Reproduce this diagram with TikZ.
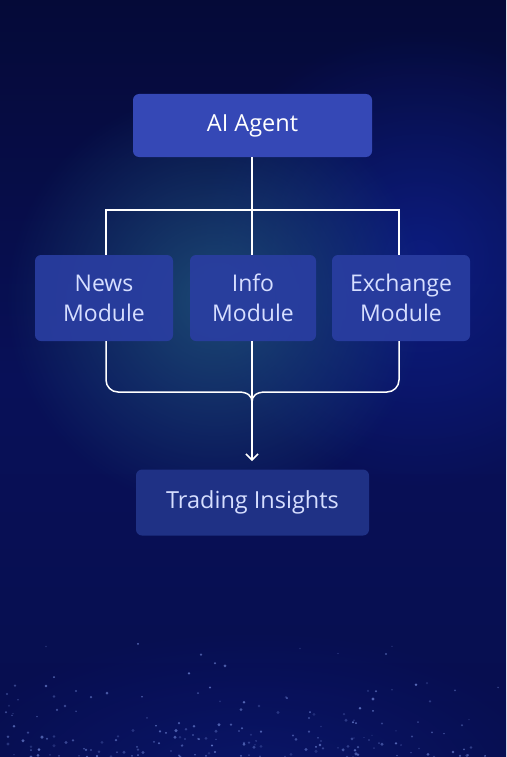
\documentclass[tikz,border=0pt]{standalone}
\usepackage{fontspec}
\setmainfont{Open Sans}
\usetikzlibrary{fadings,arrows.meta}
\definecolor{bgtop}{HTML}{050A38}
\definecolor{bgmid}{HTML}{081058}
\definecolor{bgbot}{HTML}{070E4E}
\definecolor{glow}{HTML}{1F527A}
\definecolor{glowb}{HTML}{1128A8}
\definecolor{agentfill}{HTML}{3548B6}
\definecolor{modfill}{HTML}{2A3EA2}
\definecolor{tradefill}{HTML}{1F3185}
\definecolor{txtlight}{HTML}{D6DEFF}
\definecolor{starc}{HTML}{7F96E8}
\tikzfading[name=glowfade, inner color=transparent!0, outer color=transparent!100]
\begin{document}
\begin{tikzpicture}[x=1pt,y=-1pt,
  box/.style={rounded corners=6pt, minimum height=63pt, inner sep=0pt, align=center, font=\fontsize{23}{30}\selectfont},
  agentbox/.style={box, fill=agentfill, text=white, minimum width=239pt, font=\fontsize{23.5}{30}\selectfont},
  modbox/.style={box, fill=modfill, fill opacity=0.9, text opacity=1, text=txtlight, minimum height=86pt},
  tradebox/.style={box, fill=tradefill, text=txtlight, minimum width=233pt, minimum height=66pt, font=\fontsize{23.5}{30}\selectfont},
  wire/.style={draw=white, line width=1.5pt}
]
\useasboundingbox (0,0) rectangle (506,757);
% background
\shade[top color=bgtop, bottom color=bgbot, middle color=bgmid] (0,0) rectangle (506,757);
\fill[glowb, path fading=glowfade, fill opacity=0.55] (420,260) circle (230);
\fill[glow, path fading=glowfade, fill opacity=0.85] (215,300) circle (210);
\fill[glowb, path fading=glowfade, fill opacity=0.3] (253,780) ellipse (320 and 150);
% stars
\pgfmathsetseed{11}
\foreach \i in {1,...,190}{
  \pgfmathsetmacro{\sx}{random(5,500)}
  \pgfmathsetmacro{\sy}{757-125*rnd*rnd}
  \pgfmathsetmacro{\so}{0.2+0.5*rnd}
  \pgfmathsetmacro{\sr}{0.7+1.0*rnd}
  \fill[starc, opacity=\so] (\sx,\sy) circle (\sr);
}
% nodes
\node[agentbox] (agent) at (252.5,125.5) {AI Agent};
\node[modbox, minimum width=138pt] (news) at (104,298) {News\\Module};
\node[modbox, minimum width=126pt] (info) at (253,298) {Info\\Module};
\node[modbox, minimum width=138pt] (exch) at (401,298) {Exchange\\Module};
\node[tradebox] (trade) at (252.5,502.5) {Trading Insights};
% splitting connector
\coordinate (split) at (252,210);
\draw[wire] (agent.south -| split) -- (split);
\draw[wire] (news.north -| 106,0) |- (split) -| (exch.north -| 399,0);
\draw[wire] (split) -- (info.north -| split);
% merging connector
\coordinate (join) at (252,402);
\coordinate (tip) at (252,461);
\draw[wire] (news.south -| 106,0) -- (106,380) arc[start angle=180, end angle=90, radius=12] -- (238,392)
   .. controls (248,392) and (252,396) .. (join);
\draw[wire] (exch.south -| 399,0) -- (399,380) arc[start angle=0, end angle=90, radius=12] -- (266,392)
   .. controls (256,392) and (252,396) .. (join);
\draw[wire] (info.south -| join) -- (join);
\draw[wire, -{Straight Barb[length=6pt, width=12pt]}] (join) -- (tip);
\end{tikzpicture}
\end{document}
